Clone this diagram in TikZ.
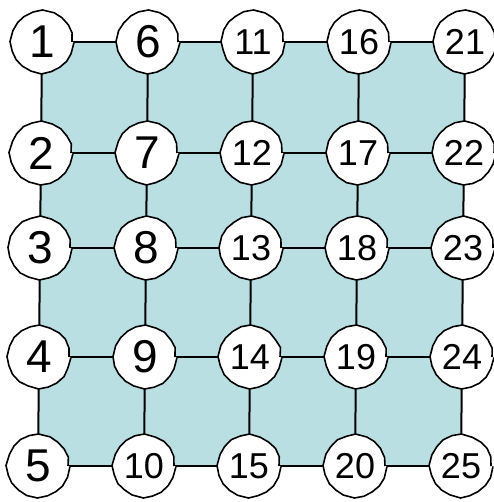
\documentclass[tikz,border=0pt]{standalone}
\usepackage{fontspec}
\setmainfont{Liberation Sans}
\usetikzlibrary{backgrounds,decorations.pathmorphing}
\definecolor{gridFill}{RGB}{185,223,227}

\begin{document}
\begin{tikzpicture}[x=1pt, y=-1pt,
  vtx/.style={circle, draw=black, fill=white, line width=1.6pt,
    minimum size=60pt, inner sep=0pt,
    decorate, decoration={random steps, segment length=9pt, amplitude=0.5pt}},
  link/.style={draw=black, line width=2pt}]
  \useasboundingbox (0,0) rectangle (493,502);
  % 5 x 5 nodes, columns lean slightly to the left
  \foreach \c in {0,...,4}
    \foreach \r in {0,...,4} {
      \pgfmathtruncatemacro{\n}{5*\c+\r+1}
      \pgfmathsetmacro{\x}{{42,148,253,359,465}[\c]-\r}
      \pgfmathsetmacro{\y}{{42,153,248,357,466}[\r]}
      \pgfmathtruncatemacro{\fs}{ifthenelse(\n<10,46,36)}
      \node[vtx, font=\fontsize{\fs}{\fs}\selectfont] (n\n) at (\x,\y) {\n};
    }
  \begin{scope}[on background layer]
    % light square behind the grid
    \fill[gridFill] (n1.center) -- (n21.center) -- (n25.center)
      -- (n5.center) -- cycle;
    % rows and columns
    \foreach \a in {1,...,20} {
      \pgfmathtruncatemacro{\b}{\a+5}
      \path[link] (n\a.center) -- (n\b.center);
    }
    \foreach \c in {0,5,10,15,20}
      \foreach \r in {1,...,4} {
        \pgfmathtruncatemacro{\a}{\c+\r}
        \pgfmathtruncatemacro{\b}{\a+1}
        \path[link] (n\a.center) -- (n\b.center);
      }
  \end{scope}
\end{tikzpicture}
\end{document}
